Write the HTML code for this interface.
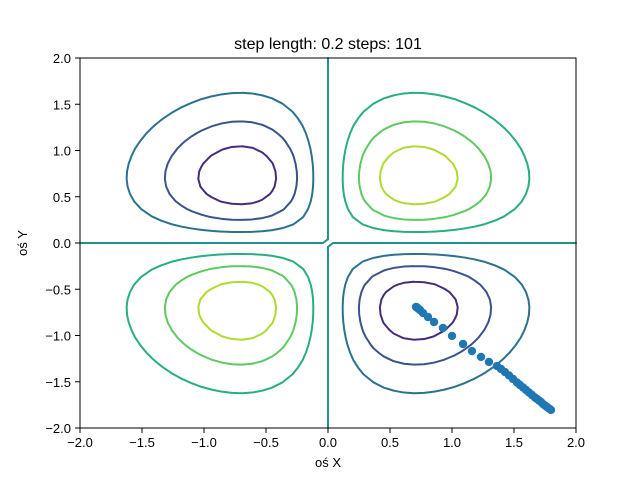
<!DOCTYPE html>
<html><head><meta charset="utf-8"><style>
body{margin:0;background:#fff;}
svg{display:block;font-family:"Liberation Sans","DejaVu Sans",sans-serif;}
</style></head><body>
<svg id="chart" width="640" height="480">
<text x="328" y="49" font-size="16" text-anchor="middle">step length: 0.2 steps: 101</text>
<g id="contours"></g>
<g id="points"></g>
<rect x="80" y="58" width="496" height="370" fill="none" stroke="#000" stroke-width="1"/>
<g id="xt"></g>
<g id="yt"></g>
<text x="328" y="467" font-size="13" text-anchor="middle">oś X</text>
<text x="0" y="0" font-size="13" text-anchor="middle" transform="translate(27,243) rotate(-90)">oś Y</text>
</svg>
<script>
const xTicks=[-2,-1.5,-1,-0.5,0,0.5,1,1.5,2];
const yTicks=[-2,-1.5,-1,-0.5,0,0.5,1,1.5,2];
const xTickLabels=["−2.0","−1.5","−1.0","−0.5","0.0","0.5","1.0","1.5","2.0"];
const yTickLabels=["−2.0","−1.5","−1.0","−0.5","0.0","0.5","1.0","1.5","2.0"];
const levels=[-0.15,-0.10,-0.05,0,0.05,0.10,0.15];
const levelColors=["#472c7a","#3b528b","#2c728e","#21918c","#28ae80","#5ec962","#addc30"];
const pathX=[1.798,1.782,1.766,1.750,1.734,1.718,1.702,1.685,1.669,1.645,1.621,1.597,1.573,1.548,1.524,1.492,1.460,1.427,1.395,1.363,1.298,1.234,1.161,1.089,1.000,0.927,0.855,0.806,0.766,0.742,0.726,0.718,0.710];
const pathY=[-1.805,-1.789,-1.773,-1.757,-1.741,-1.719,-1.703,-1.686,-1.670,-1.643,-1.616,-1.589,-1.562,-1.535,-1.508,-1.470,-1.432,-1.395,-1.362,-1.330,-1.286,-1.232,-1.168,-1.092,-1.005,-0.919,-0.854,-0.800,-0.757,-0.724,-0.708,-0.697,-0.692];
const NS="http://www.w3.org/2000/svg";
const X=v=>80+(v+2)*124, Y=v=>428-(v+2)*92.5;
function f(x,y){return x*y*Math.exp(-x*x-y*y);}
const xt=document.getElementById('xt'), yt=document.getElementById('yt');
xTicks.forEach((t,i)=>{
 const l=document.createElementNS(NS,'line');
 
 
 l.setAttribute('x1',X(t));l.setAttribute('x2',X(t));l.setAttribute('y1',428);l.setAttribute('y2',433);l.setAttribute('stroke','#000');xt.appendChild(l);
 const s=document.createElementNS(NS,'text');
 
 
 s.setAttribute('x',X(t));s.setAttribute('y',447);s.setAttribute('font-size','13');s.setAttribute('text-anchor','middle');s.textContent=xTickLabels[i];xt.appendChild(s);
});
yTicks.forEach((t,i)=>{
 const l=document.createElementNS(NS,'line');
 
 
 l.setAttribute('x1',75);l.setAttribute('x2',80);l.setAttribute('y1',Y(t));l.setAttribute('y2',Y(t));l.setAttribute('stroke','#000');yt.appendChild(l);
 const s=document.createElementNS(NS,'text');
 
 
 s.setAttribute('x',71);s.setAttribute('y',Y(t)+5);s.setAttribute('font-size','13');s.setAttribute('text-anchor','end');s.textContent=yTickLabels[i];yt.appendChild(s);
});
const N=50, g=[], cs=[];
for(let i=0;i<N;i++)cs.push(-2+4*i/(N-1));
for(let j=0;j<N;j++){g.push([]);for(let i=0;i<N;i++)g[j].push(f(cs[i],cs[j]));}
const cg=document.getElementById('contours');
levels.forEach((lv,k)=>{
 let d="";
 for(let j=0;j<N-1;j++)for(let i=0;i<N-1;i++){
  const x0=cs[i],x1=cs[i+1],y0=cs[j],y1=cs[j+1];
  const a=g[j][i],b=g[j][i+1],c=g[j+1][i+1],e=g[j+1][i];
  const pts=[];
  const it=(va,vb,pa,pb)=>{const t=(lv-va)/(vb-va);return [pa[0]+t*(pb[0]-pa[0]),pa[1]+t*(pb[1]-pa[1])];};
  if((a<lv)!==(b<lv))pts.push(it(a,b,[x0,y0],[x1,y0]));
  if((b<lv)!==(c<lv))pts.push(it(b,c,[x1,y0],[x1,y1]));
  if((c<lv)!==(e<lv))pts.push(it(c,e,[x1,y1],[x0,y1]));
  if((e<lv)!==(a<lv))pts.push(it(e,a,[x0,y1],[x0,y0]));
  for(let p=0;p+1<pts.length;p+=2)d+=`M${X(pts[p][0]).toFixed(2)},${Y(pts[p][1]).toFixed(2)}L${X(pts[p+1][0]).toFixed(2)},${Y(pts[p+1][1]).toFixed(2)}`;
 }
 const path=document.createElementNS(NS,'path');
 
 
 path.setAttribute('d',d);path.setAttribute('stroke',levelColors[k]);path.setAttribute('stroke-width','2');path.setAttribute('fill','none');path.setAttribute('stroke-linecap','round');
 cg.appendChild(path);
});
const pg=document.getElementById('points');
pathX.forEach((px,i)=>{
 const c=document.createElementNS(NS,'circle');
 
 
 c.setAttribute('cx',X(px));c.setAttribute('cy',Y(pathY[i]));c.setAttribute('r',4.2);c.setAttribute('fill','#1f77b4');
 pg.appendChild(c);
});
</script>
</body></html>
